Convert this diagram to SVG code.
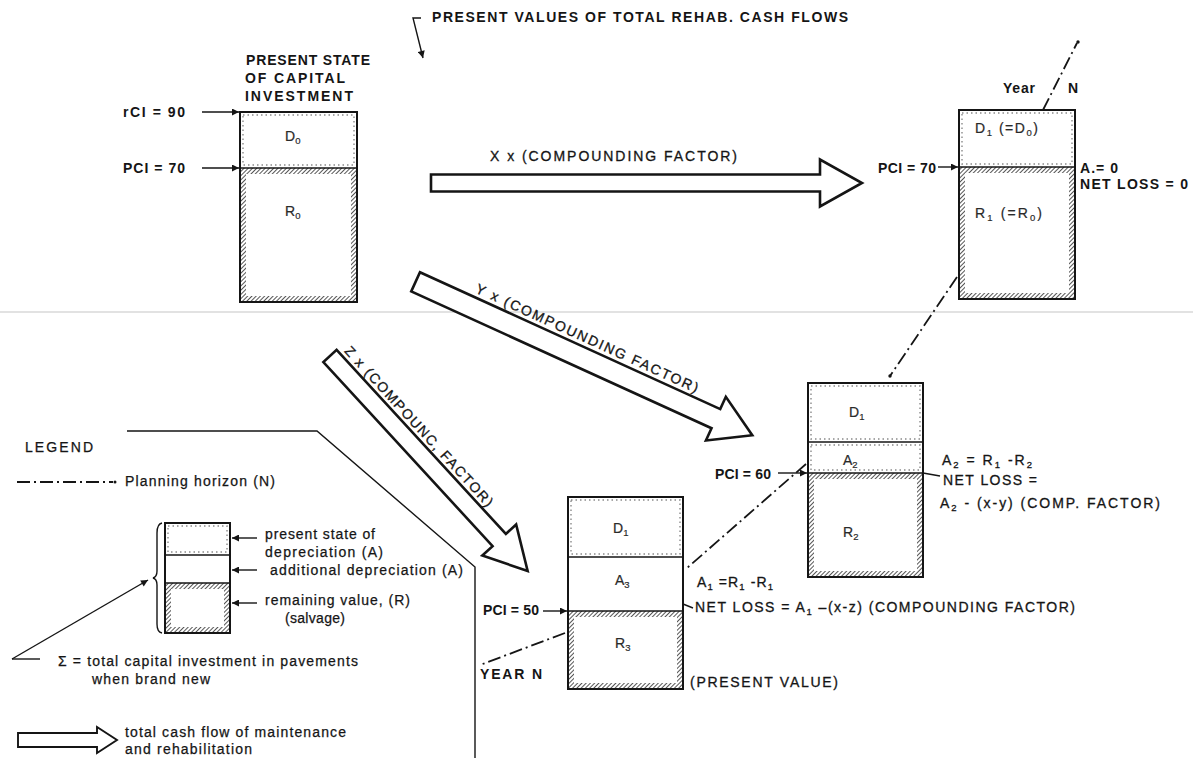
<svg xmlns="http://www.w3.org/2000/svg" width="1193" height="760" viewBox="0 0 1193 760">
<style>
text{font-family:"Liberation Sans",Arial,sans-serif;fill:#151515;}
.b{font-weight:bold;font-size:14px;}
.n{font-size:14px;stroke:#151515;stroke-width:0.3;}
.lg{font-size:14px;stroke:#151515;stroke-width:0.25;}
.in{font-size:14px;fill:#2a2a2a;stroke:#2a2a2a;stroke-width:0.2;}
.sub{font-size:9.5px;}
.box{fill:none;stroke:#151515;stroke-width:2;}
.div{stroke:#151515;stroke-width:1.5;}
.dot{fill:none;stroke:#8a8a8a;stroke-width:1.4;stroke-dasharray:1.5 3;}
.hat{fill:none;stroke:url(#hatch);stroke-width:6;}
.dd{fill:none;stroke:#151515;stroke-width:1.8;stroke-dasharray:13 4 2 4;}
.ln{fill:none;stroke:#151515;stroke-width:1.4;}
.ar{fill:none;stroke:#151515;stroke-width:1.4;marker-end:url(#ah);}
.fat{fill:#fff;stroke:#151515;stroke-width:2.6;stroke-linejoin:miter;}
</style>
<defs>
<pattern id="hatch" width="3" height="3" patternUnits="userSpaceOnUse" patternTransform="rotate(45)">
<rect width="3" height="3" fill="#fff"/>
<line x1="0" y1="0" x2="0" y2="3" stroke="#2a2a2a" stroke-width="1.6"/>
</pattern>
<marker id="ah" viewBox="0 0 10 10" refX="10" refY="5" markerWidth="11" markerHeight="7" markerUnits="userSpaceOnUse" orient="auto">
<path d="M0,0 L10,5 L0,10 Z" fill="#151515"/>
</marker>
</defs>
<rect width="1193" height="760" fill="#fff"/>
<line x1="0" y1="312" x2="1193" y2="312" stroke="#e2e2e2" stroke-width="2"/>

<g id="title">
<text class="b" x="432" y="22" textLength="416" lengthAdjust="spacing">PRESENT VALUES OF TOTAL REHAB. CASH FLOWS</text>
<path class="ar" d="M421,18 L413,18 L423,58"/>
</g>

<g id="node-present">
<text class="b" x="246" y="65" textLength="124" lengthAdjust="spacing">PRESENT STATE</text>
<text class="b" x="245" y="83" textLength="100" lengthAdjust="spacing">OF CAPITAL</text>
<text class="b" x="245" y="101" textLength="108" lengthAdjust="spacing">INVESTMENT</text>
<rect class="dot" x="243" y="115" width="111" height="50"/>
<rect class="hat" x="243" y="171" width="111" height="128"/>
<rect class="box" x="240" y="112" width="117" height="190"/>
<line class="div" x1="240" y1="168" x2="357" y2="168"/>
<text class="in" x="285" y="141">D<tspan class="sub" dy="3">0</tspan></text>
<text class="in" x="285" y="216">R<tspan class="sub" dy="3">0</tspan></text>
<text class="b" x="123" y="117" textLength="62" lengthAdjust="spacing">rCI = 90</text>
<text class="b" x="123" y="173" textLength="62" lengthAdjust="spacing">PCI = 70</text>
</g>

<g id="node-year1">
<rect class="dot" x="962" y="113" width="110" height="51"/>
<rect class="hat" x="962" y="170" width="110" height="126"/>
<rect class="box" x="959" y="110" width="116" height="189"/>
<line class="div" x1="959" y1="167" x2="1075" y2="167"/>
<text class="in" x="975" y="133" textLength="63" lengthAdjust="spacing">D<tspan class="sub" dy="3">1</tspan><tspan dy="-3"> (=D</tspan><tspan class="sub" dy="3">0</tspan><tspan dy="-3">)</tspan></text>
<text class="in" x="975" y="218" textLength="67" lengthAdjust="spacing">R<tspan class="sub" dy="3">1</tspan><tspan dy="-3"> (=R</tspan><tspan class="sub" dy="3">0</tspan><tspan dy="-3">)</tspan></text>
<text class="b" x="1003" y="93" textLength="32" lengthAdjust="spacing">Year</text>
<text class="b" x="1068" y="93">N</text>
<text class="b" x="878" y="173" textLength="58" lengthAdjust="spacing">PCI = 70</text>
<text class="b" x="1080" y="173" textLength="38" lengthAdjust="spacing">A.= 0</text>
<text class="b" x="1080" y="189" textLength="108" lengthAdjust="spacing">NET LOSS = 0</text>
</g>

<g id="node-year2">
<rect class="dot" x="811" y="386" width="109" height="53"/>
<rect class="dot" x="811" y="445" width="109" height="25"/>
<rect class="hat" x="811" y="476" width="109" height="98"/>
<rect class="box" x="808" y="383" width="115" height="194"/>
<line class="div" x1="808" y1="442" x2="923" y2="442"/>
<line class="div" x1="808" y1="473" x2="923" y2="473"/>
<text class="in" x="849" y="417">D<tspan class="sub" dy="3">1</tspan></text>
<text class="in" x="843" y="465">A<tspan class="sub" dy="3">2</tspan></text>
<text class="in" x="843" y="537">R<tspan class="sub" dy="3">2</tspan></text>
<text class="b" x="715" y="479" textLength="56" lengthAdjust="spacing">PCI = 60</text>
<text class="n" x="942" y="465" textLength="90" lengthAdjust="spacing">A<tspan class="sub" dy="3">2</tspan><tspan dy="-3"> = R</tspan><tspan class="sub" dy="3">1</tspan><tspan dy="-3"> -R</tspan><tspan class="sub" dy="3">2</tspan></text>
<text class="n" x="943" y="485" textLength="94" lengthAdjust="spacing">NET LOSS =</text>
<text class="n" x="940" y="508" textLength="220" lengthAdjust="spacing">A<tspan class="sub" dy="3">2</tspan><tspan dy="-3"> - (x-y) (COMP. FACTOR)</tspan></text>
</g>

<g id="node-year3">
<rect class="dot" x="571" y="500" width="109" height="54"/>
<rect class="hat" x="571" y="614" width="109" height="72"/>
<rect class="box" x="568" y="497" width="115" height="192"/>
<line class="div" x1="568" y1="557" x2="683" y2="557"/>
<line class="div" x1="568" y1="611" x2="683" y2="611"/>
<text class="in" x="613" y="533">D<tspan class="sub" dy="3">1</tspan></text>
<text class="in" x="615" y="585">A<tspan class="sub" dy="3">3</tspan></text>
<text class="in" x="615" y="648">R<tspan class="sub" dy="3">3</tspan></text>
<text class="b" x="483" y="615" textLength="56" lengthAdjust="spacing">PCI = 50</text>
<text class="n" x="697" y="587" textLength="76" lengthAdjust="spacing">A<tspan class="sub" dy="3">1</tspan><tspan dy="-3"> =R</tspan><tspan class="sub" dy="3">1</tspan><tspan dy="-3"> -R</tspan><tspan class="sub" dy="3">1</tspan></text>
<text class="n" x="695" y="612" textLength="380" lengthAdjust="spacing">NET LOSS = A<tspan class="sub" dy="3">1</tspan><tspan dy="-3"> –(x-z) (COMPOUNDING FACTOR)</tspan></text>
<text class="b" x="480" y="679" textLength="62" lengthAdjust="spacing">YEAR N</text>
<text class="n" x="690" y="687" textLength="148" lengthAdjust="spacing">(PRESENT VALUE)</text>
</g>

<g id="connectors">
<line class="ar" x1="202" y1="112" x2="239" y2="112"/>
<line class="ar" x1="202" y1="168" x2="239" y2="168"/>
<line class="ar" x1="938" y1="167" x2="958" y2="167"/>
<line class="ar" x1="778" y1="473" x2="807" y2="473"/>
<line class="ar" x1="543" y1="611" x2="567" y2="611"/>
<line class="ln" x1="923" y1="473" x2="940" y2="476"/>
<line class="ln" x1="683" y1="604" x2="693" y2="608"/>
<path class="dd" d="M1043,110 L1077,43"/>
<circle cx="1078" cy="42" r="1.7" fill="#151515"/>
<path class="dd" d="M957,277 L890,376"/>
<circle cx="890" cy="376" r="1.7" fill="#151515"/>
<path class="dd" d="M806,464 L687,568"/>
<path class="dd" d="M565,633 L480,665"/>
<path class="fat" d="M431,174.5 L820,174.5 L820,159.5 L862,183 L820,206.5 L820,191.5 L431,191.5 Z"/>
<text class="n" x="490" y="161" textLength="247" lengthAdjust="spacing">X  x (COMPOUNDING FACTOR)</text>
<g transform="translate(415.6,281.8) rotate(24.5)">
<path class="fat" d="M0,-10.5 L330,-10.5 L330,-24 L370,0 L330,24 L330,10.5 L0,10.5 Z"/>
<text class="n" x="58" y="-15" textLength="243" lengthAdjust="spacing">Y x (COMPOUNDING FACTOR)</text>
</g>
<g transform="translate(330,356) rotate(47.4)">
<path class="fat" d="M0,-9 L250,-9 L250,-23 L292,0 L250,23 L250,9 L0,9 Z"/>
<text class="n" x="6" y="-13" textLength="212" lengthAdjust="spacing">Z x (COMPOUNC, FACTOR)</text>
</g>
</g>

<g id="legend">
<polyline class="ln" points="127,431 317,431 475,567 475,758"/>
<text class="lg" x="25" y="452" textLength="68" lengthAdjust="spacing">LEGEND</text>
<path class="dd" d="M17,482 L113,482"/>
<circle cx="115" cy="482" r="1.5" fill="#151515"/>
<text class="lg" x="125" y="486" textLength="150" lengthAdjust="spacing">Planning horizon (N)</text>
<rect class="dot" x="168" y="526" width="59" height="26"/>
<rect class="hat" x="168" y="586" width="59" height="44"/>
<rect class="box" x="165" y="523" width="65" height="110"/>
<line class="div" x1="165" y1="555" x2="230" y2="555"/>
<line class="div" x1="165" y1="583" x2="230" y2="583"/>
<path class="ln" d="M162,523 Q157,524 157,533 L157,571 Q157,577 153,578 Q157,579 157,585 L157,624 Q157,632 162,633"/>
<line class="ar" x1="257" y1="538" x2="232" y2="538"/>
<line class="ar" x1="257" y1="570" x2="232" y2="570"/>
<line class="ar" x1="257" y1="603" x2="232" y2="603"/>
<text class="lg" x="265" y="539" textLength="110" lengthAdjust="spacing">present state of</text>
<text class="lg" x="265" y="557" textLength="118" lengthAdjust="spacing">depreciation (A)</text>
<text class="lg" x="270" y="575" textLength="193" lengthAdjust="spacing">additional depreciation (A)</text>
<text class="lg" x="265" y="605" textLength="145" lengthAdjust="spacing">remaining value, (R)</text>
<text class="lg" x="285" y="623" textLength="60" lengthAdjust="spacing">(salvage)</text>
<line class="ln" x1="12" y1="659" x2="40" y2="659"/>
<line class="ar" x1="12" y1="659" x2="148" y2="580"/>
<text class="lg" x="58" y="666" textLength="300" lengthAdjust="spacing">Σ = total capital investment in pavements</text>
<text class="lg" x="92" y="684" textLength="118" lengthAdjust="spacing">when brand new</text>
<path class="fat" style="stroke-width:1.9" d="M18,733 L97,733 L97,727 L117,740 L97,753 L97,747 L18,747 Z"/>
<text class="lg" x="125" y="737" textLength="221" lengthAdjust="spacing">total cash flow of maintenance</text>
<text class="lg" x="125" y="754" textLength="127" lengthAdjust="spacing">and rehabilitation</text>
</g>
</svg>
